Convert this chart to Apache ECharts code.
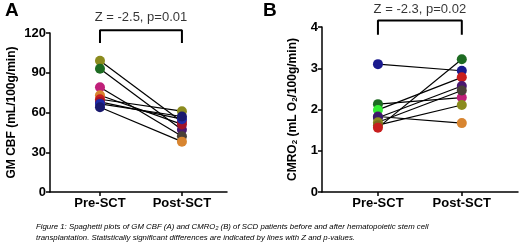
<!DOCTYPE html>
<html>
<head>
<meta charset="utf-8">
<script src="https://cdn.jsdelivr.net/npm/echarts@6/dist/echarts.min.js"></script>
<style>
  html, body { margin: 0; padding: 0; background: #fff; }
  #chart { width: 520px; height: 251px; }
</style>
</head>
<body>
<div id="chart"></div>
<script>
// x positions: 0 = Pre-SCT, 1 = Post-SCT
const groups = ['Pre-SCT', 'Post-SCT']

// panel A: GM CBF (mL/100g/min), one entry per patient
const preA = [99, 93, 79, 73, 70, 68, 66.5, 64]
const postA = [53, 47, 42, 51, 61, 55, 57, 38]
const preColorsA = ['#8b8b1e', '#1d6b22', '#c0207a', '#d88530', '#c81e1e', '#a0142a', '#1e2aa8', '#1a1a6e']
const postColorsA = ['#c81e1e', '#4a1870', '#4a4038', '#a0142a', '#8b8b1e', '#1e2aa8', '#1a1a6e', '#d88530']
const ticksA = [0, 30, 60, 90, 120]

// panel B: CMRO2 (mL O2/100g/min)
const preB = [3.10, 2.13, 1.99, 1.83, 1.80, 1.69, 1.62, 1.56]
const postB = [2.94, 2.29, 2.78, 1.67, 2.57, 2.46, 2.11, 3.22]
const preColorsB = ['#1a1a8e', '#1d6b22', '#33ee33', '#4a1870', '#3a1a6a', '#8b8b1e', '#7a6a1e', '#c81e1e']
const postColorsB = ['#1a1a8e', '#c0207a', '#c81e1e', '#d88530', '#4a1870', '#4a4038', '#8b8b1e', '#1d6b22']
const ticksB = [0, 1, 2, 3, 4]

// significance brackets [legBottom, top, textY]
const bracketA = [112.5, 122, 131.5]
const bracketB = [3.81, 4.16, 4.42]
const statA = 'Z = -2.5, p=0.01'
const statB = 'Z = -2.3, p=0.02'

const font = 'Liberation Sans, Arial, sans-serif'

const chart = echarts.init(document.getElementById('chart'))

function xAxisFor(idx, min, max) {
  return {
    gridIndex: idx, type: 'value', min, max,
    splitLine: { show: false },
    axisLine: { lineStyle: { color: '#000', width: 1.5 } },
    axisTick: { customValues: [0, 1], length: 4, lineStyle: { color: '#000', width: 1.5 } },
    axisLabel: {
      customValues: [0, 1], formatter: v => groups[v],
      color: '#000', fontFamily: font, fontWeight: 'bold', fontSize: 13, margin: 5
    }
  }
}

function yAxisFor(idx, ticks, name, gap, rich) {
  return {
    gridIndex: idx, type: 'value',
    min: ticks[0], max: ticks[ticks.length - 1], interval: ticks[1] - ticks[0],
    name, nameLocation: 'middle', nameGap: gap,
    nameTextStyle: { color: '#000', fontFamily: font, fontWeight: 'bold', fontSize: 12, rich },
    splitLine: { show: false },
    axisLine: { show: true, onZero: false, lineStyle: { color: '#000', width: 1.5 } },
    axisTick: { show: true, length: 4, lineStyle: { color: '#000', width: 1.5 } },
    axisLabel: { color: '#000', fontFamily: font, fontWeight: 'bold', fontSize: 13, margin: 4 }
  }
}

function panelSeries(idx, pre, post, preColors, postColors, bracket, stat) {
  const s = []
  pre.forEach((v, i) => {
    s.push({
      type: 'line', xAxisIndex: idx, yAxisIndex: idx, z: 2,
      data: [[0, v], [1, post[i]]], symbol: 'none', silent: true,
      lineStyle: { color: '#000', width: 1.2 }
    })
  })
  const pts = []
  pre.forEach((v, i) => {
    pts.push({ value: [0, v], itemStyle: { color: preColors[i], opacity: 1 } })
    pts.push({ value: [1, post[i]], itemStyle: { color: postColors[i], opacity: 1 } })
  })
  s.push({
    type: 'scatter', xAxisIndex: idx, yAxisIndex: idx, z: 3,
    symbolSize: 10, data: pts
  })
  s.push({
    type: 'line', xAxisIndex: idx, yAxisIndex: idx, clip: false, symbol: 'none',
    data: [[0, bracket[0]], [0, bracket[1]], [1, bracket[1]], [1, bracket[0]]],
    lineStyle: { color: '#000', width: 2 }
  })
  s.push({
    type: 'scatter', xAxisIndex: idx, yAxisIndex: idx, clip: false, symbolSize: 0,
    data: [[0.5, bracket[2]]],
    label: {
      show: true, position: 'inside', formatter: stat,
      color: '#000', fontFamily: font, fontSize: 13
    }
  })
  return s
}

const sub = { fontSize: 8, fontWeight: 'bold', fontFamily: font, color: '#000', padding: [5, 0, 0, 0] }

chart.setOption({
  backgroundColor: '#fff',
  animation: false,
  grid: [
    { left: 50, right: 293, top: 33, bottom: 59 },
    { left: 322, right: 2, top: 27, bottom: 59 }
  ],
  xAxis: [xAxisFor(0, -0.61, 1.55), xAxisFor(1, -0.667, 1.67)],
  yAxis: [
    yAxisFor(0, ticksA, 'GM CBF (mL/100g/min)', 32),
    yAxisFor(1, ticksB, 'CMRO{sub|2} (mL O{sub|2}/100g/min)', 23, { sub })
  ],
  series: [
    ...panelSeries(0, preA, postA, preColorsA, postColorsA, bracketA, statA),
    ...panelSeries(1, preB, postB, preColorsB, postColorsB, bracketB, statB)
  ],
  graphic: [
    { type: 'text', left: 5, top: 1, style: { text: 'A', font: 'bold 19px ' + font, fill: '#000' } },
    { type: 'text', left: 263, top: 1, style: { text: 'B', font: 'bold 19px ' + font, fill: '#000' } },
    {
      type: 'text', left: 36, top: 221,
      style: {
        text: 'Figure 1: Spaghetti plots of GM CBF (A) and CMRO\u2082 (B) of SCD patients before and after hematopoietic stem cell\ntransplantation. Statistically significant differences are indicated by lines with Z and p-values.',
        font: 'italic 7.8px ' + font, fill: '#000', lineHeight: 11
      }
    }
  ]
})
</script>
</body>
</html>
